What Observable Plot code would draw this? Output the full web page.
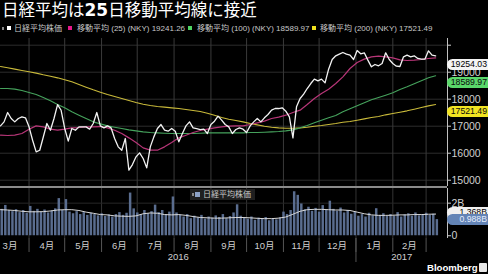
<!DOCTYPE html>
<html><head><meta charset="utf-8">
<script src="https://cdn.jsdelivr.net/npm/d3@7"></script>
<script src="https://cdn.jsdelivr.net/npm/@observablehq/plot@0.6"></script>
<style>
html,body{margin:0;padding:0;background:#000;}
body{width:488px;height:274px;overflow:hidden;position:relative;font-family:"Liberation Sans",Arial,"Noto Sans CJK JP",sans-serif;color:#c8c8c8;}
#title{position:absolute;left:2px;top:0px;font-size:16.5px;line-height:19px;color:#fff;font-family:"Noto Sans CJK JP",sans-serif;white-space:nowrap;}
#title b{font-family:"DejaVu Sans",sans-serif;font-weight:bold;font-size:17px;}
.lg{position:absolute;font-size:8px;line-height:10px;top:23.5px;white-space:nowrap;color:#c8c8c8;font-family:"Liberation Sans","Noto Sans CJK JP",sans-serif;}
.sq{position:absolute;width:4px;height:4px;}
#main{position:absolute;left:0;top:38px;}
#vol{position:absolute;left:0;top:187px;}
#sep{position:absolute;left:0;top:186px;width:447px;height:2px;background:#8a8a8a;}
.tag{position:absolute;left:447px;width:41px;height:11px;line-height:11px;font-size:8.7px;text-align:right;padding-right:1px;box-sizing:border-box;border-radius:6px 0 0 6px;font-family:"Liberation Sans",Arial,sans-serif;color:#000;white-space:nowrap;overflow:hidden;}
#vlg{position:absolute;left:190px;top:189px;width:65px;height:11px;background:#1f1f1f;}
#logo{position:absolute;left:427px;top:262px;font-size:9.6px;line-height:12px;font-weight:bold;color:#fff;font-family:"Liberation Sans",Arial,sans-serif;}
#icon{position:absolute;left:479px;top:263px;width:8px;height:9px;background:#e8e8e8;border-radius:1px;}
</style></head>
<body>
<div id="title">日経平均は<b>25</b>日移動平均線に接近</div>
<div id="legend"></div>
<div id="main"></div>
<div id="sep"></div>
<div id="vol"></div>
<div id="vlg"></div>
<div id="logo">Bloomberg</div>
<div id="icon"></div>
<script>
// ---------- data ----------
const startDate = "2016-03-08";      // first sample
const priceStepDays = 3;              // close sampled every 3 days
const maStepDays = 6;                 // moving averages sampled every 6 days
const xDomain = ["2016-03-08", "2017-03-19"];

const closeValues = [17013,17160,17507,17285,17160,17285,17345,17310,16976,16480,
16050,16110,16600,17100,16850,17285,17800,17590,16915,16445,
16915,16850,16975,16975,16975,16890,17100,17507,17013,16940,
17013,16940,16544,16235,16110,16544,15370,15580,15865,16013,
15803,15457,16235,16605,16914,17062,16852,16815,16914,16815,
16420,16729,17013,17161,16939,16914,16877,16890,16729,17062,
17186,17371,17223,17062,16976,16729,16877,16939,16890,16766,
17013,17161,17285,17161,17310,17433,17594,17655,17655,17680,
17556,17347,16568,17717,18026,18186,18396,18581,18742,18680,
18742,18606,19112,19470,19607,19668,19730,19668,19631,19470,
19804,19681,19718,19446,19199,19285,19236,19322,19718,19470,
19322,19224,19211,19570,19631,19570,19607,19508,19483,19483,
19792,19631,19607];

const ma25Values = [16667,16655,16667,16729,16890,17013,16976,16890,16852,16890,
16939,16951,16976,16976,16988,16939,16852,16729,16568,16396,
16198,16112,16112,16235,16396,16568,16667,16766,16840,16890,
16939,16976,17000,17013,17013,17062,17124,17186,17285,17334,
17408,17507,17594,17803,18026,18211,18372,18582,18829,19137,
19360,19483,19570,19594,19570,19532,19458,19434,19446,19471,
19508,19532];

const ma100Values = [18396,18396,18372,18322,18248,18174,18063,17939,17803,17680,
17532,17408,17285,17161,17087,17013,16964,16914,16865,16828,
16791,16766,16754,16741,16729,16729,16729,16729,16741,16754,
16754,16754,16754,16754,16754,16766,16766,16778,16791,16803,
16828,16865,16939,17025,17124,17223,17310,17396,17532,17643,
17754,17865,17976,18063,18149,18236,18359,18458,18569,18680,
18791,18866];

const ma200Values = [19211,19162,19113,19063,19014,18965,18903,18853,18791,18717,
18643,18544,18446,18347,18260,18174,18100,18026,17952,17878,
17816,17766,17729,17705,17680,17655,17618,17581,17544,17482,
17408,17322,17260,17211,17161,17100,17050,17001,16964,16939,
16927,16927,16939,16964,17001,17025,17062,17100,17149,17174,
17223,17272,17322,17359,17421,17470,17519,17569,17631,17692,
17754,17803];

// volume, billions of shares (same 3-day sampling as close)
const volumeValues = [1.62,1.86,1.55,1.48,1.60,1.42,1.55,1.38,1.80,1.50,
1.62,1.45,1.58,1.40,1.52,1.65,2.28,1.55,2.22,1.45,
1.35,1.48,1.30,1.42,1.25,1.38,1.30,1.22,1.35,1.18,
1.28,1.15,1.30,1.42,1.25,1.38,2.62,1.65,1.40,1.30,
1.55,1.35,1.48,1.88,1.42,1.55,1.30,1.45,2.38,1.40,
1.25,1.15,1.30,1.05,1.20,1.10,1.25,1.02,1.15,1.08,
1.22,1.12,1.30,1.05,1.18,1.40,1.90,1.20,1.10,1.02,
1.15,0.95,1.08,1.00,1.12,0.92,1.05,0.98,1.10,1.45,
1.30,1.55,2.70,2.48,1.95,1.60,1.75,1.50,1.68,1.45,
1.85,1.55,2.12,1.62,1.50,1.70,1.40,1.55,1.32,1.45,
1.20,1.30,1.15,1.38,1.22,1.66,1.25,1.35,1.18,1.30,
1.20,1.42,1.15,1.28,1.35,1.20,1.40,1.22,1.30,1.38,
1.25,1.32,0.99];

// volume moving average (6-day sampling)
const volumeMaValues = [1.60,1.58,1.55,1.50,1.47,1.47,1.48,1.52,1.58,1.60,
1.60,1.55,1.45,1.38,1.30,1.28,1.22,1.20,1.19,1.22,
1.35,1.40,1.38,1.30,1.28,1.30,1.25,1.18,1.12,1.10,
1.08,1.08,1.10,1.12,1.12,1.10,1.07,1.05,1.05,1.08,
1.15,1.32,1.50,1.60,1.62,1.62,1.60,1.58,1.58,1.55,
1.45,1.35,1.28,1.25,1.25,1.26,1.28,1.28,1.30,1.30,
1.32,1.33];

const priceTicks = [15000,16000,17000,18000,19000,20000];
const volumeTicks = [0,2];
const monthStarts = ["2016-04-01","2016-05-01","2016-06-01","2016-07-01","2016-08-01","2016-09-01","2016-10-01","2016-11-01","2016-12-01","2017-01-01","2017-02-01","2017-03-01"];
const monthMids = ["2016-03-16","2016-04-16","2016-05-16","2016-06-16","2016-07-16","2016-08-16","2016-09-16","2016-10-16","2016-11-16","2016-12-16","2017-01-16","2017-02-15"];
const monthLabels = ["3月","4月","5月","6月","7月","8月","9月","10月","11月","12月","1月","2月"];
const yearStart = "2017-01-01";
const yearLabels = ["2016","2017"];

const legendItems = [
  {label:"日経平均株価", color:"#ffffff", sq:7, tx:14},
  {label:"移動平均 (25) (NKY) 19241.26", color:"#e6178a", sq:68, tx:77},
  {label:"移動平均 (100) (NKY) 18589.97", color:"#4fd463", sq:188, tx:197},
  {label:"移動平均 (200) (NKY) 17521.49", color:"#f0e11e", sq:312, tx:320}
];
const lastTags = [
  {value:19254.03, text:"19254.03", bg:"#f4f4f4", fg:"#000"},
  {value:18589.97, text:"18589.97", bg:"#5ad86a", fg:"#0a0a0a"},
  {value:17521.49, text:"17521.49", bg:"#f2e422", fg:"#0a0a0a"}
];
const volumeTags = [
  {value:1.368, text:"1.368B", bg:"#f0f0f0", fg:"#000"},
  {value:0.988, text:"0.988B", bg:"#6384b6", fg:"#e6eefc"}
];

// ---------- build ----------
const parse = d => new Date(d + "T00:00:00Z");
const t0 = parse(startDate);
const closeData = closeValues.map((v,i) => ({date: d3.utcDay.offset(t0, i*priceStepDays), v}));
const maRows = vals => vals.map((v,i) => ({date: d3.utcDay.offset(t0, i*maStepDays), v}));
const ma25 = maRows(ma25Values), ma100 = maRows(ma100Values), ma200 = maRows(ma200Values);
const volData = volumeValues.map((v,i) => ({date: d3.utcDay.offset(t0, i*priceStepDays), date2: d3.utcDay.offset(t0, (i+1)*priceStepDays), v}));
const volMa = maRows(volumeMaValues);
const dom = xDomain.map(parse);
const months = monthStarts.map(parse);
const mids = monthMids.map(parse);
const yStart = parse(yearStart);
const yearMids = [new Date((+dom[0] + +yStart)/2), new Date((+yStart + +dom[1])/2)];

const font = "Liberation Sans, Arial, Noto Sans CJK JP, sans-serif";

const main = Plot.plot({
  width: 488, height: 149,
  marginLeft: 0, marginRight: 41, marginTop: 0, marginBottom: 1,
  x: {type: "utc", domain: dom, axis: null},
  y: {domain: [14767, 20248], axis: null},
  style: {background: "transparent", color: "#d0d0d0", fontFamily: font, fontSize: "10.5px", overflow: "visible"},
  marks: [
    Plot.ruleY(priceTicks, {stroke: "#2c2c2c"}),
    Plot.ruleX(months, {stroke: "#3a3a3a"}),
    Plot.lineY(ma200, {x: "date", y: "v", stroke: "#c8b93a", strokeWidth: 1.1}),
    Plot.lineY(ma100, {x: "date", y: "v", stroke: "#45a25c", strokeWidth: 1.1}),
    Plot.lineY(ma25, {x: "date", y: "v", stroke: "#b83678", strokeWidth: 1.2}),
    Plot.lineY(closeData, {x: "date", y: "v", stroke: "#f2f2f2", strokeWidth: 1.3}),
    Plot.ruleX([dom[1]], {stroke: "#c0c0c0"}),
    Plot.axisY(priceTicks, {anchor: "right", label: null, tickSize: 3, tickPadding: 1, color: "#d0d0d0", tickFormat: d => d === 20000 ? "" : String(d)})
  ]
});
document.getElementById("main").appendChild(main);

const vol = Plot.plot({
  width: 488, height: 87,
  marginLeft: 0, marginRight: 41, marginTop: 1, marginBottom: 36,
  x: {type: "utc", domain: dom, axis: null},
  y: {domain: [-0.169, 2.9], axis: null},
  style: {background: "transparent", color: "#d0d0d0", fontFamily: font, fontSize: "10.5px", overflow: "visible"},
  marks: [
    Plot.ruleX(months, {stroke: "#333"}),
    Plot.ruleY([2], {stroke: "#262626"}),
    Plot.rectY(volData, {x1: "date", x2: "date2", y1: 0, y2: "v", fill: "#5a6d8f", insetLeft: 0.5, insetRight: 0.6}),
    Plot.lineY(volMa, {x: "date", y: "v", stroke: "#d8d8d8", strokeWidth: 1}),
    Plot.ruleX([dom[1]], {stroke: "#c0c0c0"}),
    Plot.axisY(volumeTicks, {anchor: "right", label: null, tickSize: 3, tickPadding: 1, color: "#d0d0d0", tickFormat: d => d ? d + "B" : "0"}),
    Plot.axisX(months, {anchor: "bottom", label: null, tickSize: 14, tickFormat: () => "", color: "#555"}),
    Plot.axisX([yStart], {anchor: "bottom", label: null, tickSize: 24, tickFormat: () => "", color: "#555"}),
    Plot.axisX(mids, {anchor: "bottom", label: null, tickSize: 0, tickPadding: 4, fontSize: "9.5px", color: "#cfcfcf", tickFormat: (d,i) => monthLabels[i]}),
    Plot.axisX(yearMids, {anchor: "bottom", label: null, tickSize: 0, tickPadding: 15, fontSize: "9.5px", color: "#cfcfcf", tickFormat: (d,i) => yearLabels[i]})
  ]
});
document.getElementById("vol").appendChild(vol);

// legend (header)
const lg = document.getElementById("legend");
const mark = document.createElement("div");
mark.className = "sq"; mark.style.cssText = "left:2px;top:27px;width:2px;height:3px;background:#888;";
lg.appendChild(mark);
legendItems.forEach(it => {
  const s = document.createElement("div");
  s.className = "sq"; s.style.left = it.sq + "px"; s.style.top = "26px"; s.style.background = it.color;
  lg.appendChild(s);
  const t = document.createElement("div");
  t.className = "lg"; t.style.left = it.tx + "px"; t.textContent = it.label;
  lg.appendChild(t);
});

// volume legend
const vlg = document.getElementById("vlg");
vlg.innerHTML = '<div style="position:absolute;left:2px;top:4px;width:2px;height:3px;background:#888"></div>' +
  '<div style="position:absolute;left:5px;top:3px;width:5px;height:5px;background:#8da2c6"></div>' +
  '<div class="lg" style="left:13px;top:0.5px">日経平均株価</div>';

// value tags, positioned through the plots' own y scales
function addTags(plot, offsetTop, tags) {
  const ys = plot.scale("y");
  tags.forEach(t => {
    const d = document.createElement("div");
    d.className = "tag";
    d.style.top = (offsetTop + ys.apply(t.value) - 5.5) + "px";
    d.style.background = t.bg; d.style.color = t.fg;
    d.textContent = t.text;
    document.body.appendChild(d);
  });
}
addTags(main, 38, lastTags);
addTags(vol, 187, volumeTags);
</script>
</body></html>
